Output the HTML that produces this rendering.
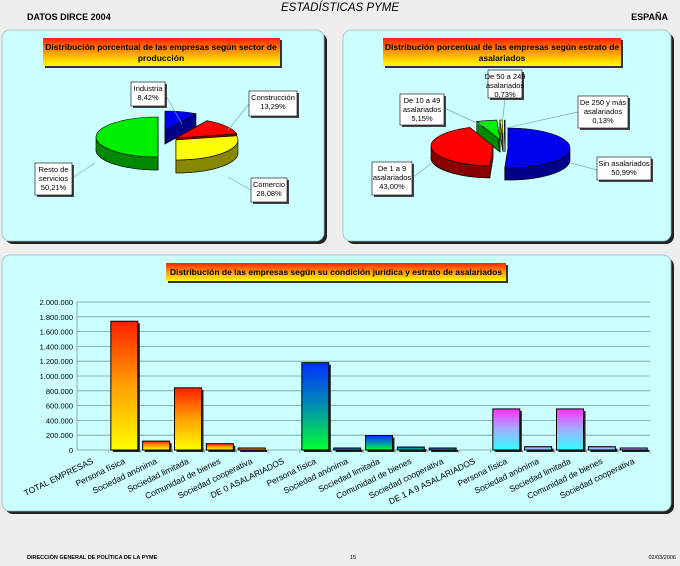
<!DOCTYPE html>
<html><head><meta charset="utf-8"><style>
html,body{margin:0;padding:0;background:#eeeeee;}
body{width:680px;height:561px;overflow:hidden;font-family:"Liberation Sans",Arial,sans-serif;}
</style></head><body>
<svg id="s" width="680" height="561" viewBox="0 0 680 561" xmlns="http://www.w3.org/2000/svg" font-family="Liberation Sans, Arial, sans-serif">
<defs>
<linearGradient id="tg" x1="0" y1="0" x2="0" y2="1"><stop offset="0" stop-color="#ff2000"/><stop offset="0.5" stop-color="#ff9a00"/><stop offset="1" stop-color="#ffff00"/></linearGradient>
<linearGradient id="g1" x1="0" y1="0" x2="0" y2="1"><stop offset="0" stop-color="#ff2000"/><stop offset="0.5" stop-color="#ffa000"/><stop offset="1" stop-color="#ffff00"/></linearGradient>
<linearGradient id="g2" x1="0" y1="0" x2="0" y2="1"><stop offset="0" stop-color="#0030ff"/><stop offset="0.5" stop-color="#0090b0"/><stop offset="1" stop-color="#00ff30"/></linearGradient>
<linearGradient id="g3" x1="0" y1="0" x2="0" y2="1"><stop offset="0" stop-color="#ff30ff"/><stop offset="0.5" stop-color="#a0b0ff"/><stop offset="1" stop-color="#30ffff"/></linearGradient>
</defs>
<text x="340" y="11" text-anchor="middle" font-size="11.5" font-style="italic">ESTADÍSTICAS PYME</text>
<text x="27" y="20" font-size="9" font-weight="bold">DATOS DIRCE 2004</text>
<text x="668" y="20" font-size="9" font-weight="bold" text-anchor="end">ESPAÑA</text>
<rect x="5" y="33" width="322" height="211" rx="8" fill="#222"/>
<rect x="2" y="30" width="322" height="211" rx="8" fill="#ccffff" stroke="#99bbbb" stroke-width="0.8"/>
<rect x="346" y="33" width="328" height="211" rx="8" fill="#222"/>
<rect x="343" y="30" width="328" height="211" rx="8" fill="#ccffff" stroke="#99bbbb" stroke-width="0.8"/>
<rect x="5" y="258" width="669" height="256" rx="8" fill="#222"/>
<rect x="2" y="255" width="669" height="256" rx="8" fill="#ccffff" stroke="#99bbbb" stroke-width="0.8"/>
<rect x="45" y="40" width="237" height="28" fill="#333"/>
<rect x="43" y="38" width="237" height="28" fill="url(#tg)"/>
<text x="161" y="50" font-size="8.5" font-weight="bold" text-anchor="middle">Distribución porcentual de las empresas según sector de</text>
<text x="161" y="61" font-size="8.5" font-weight="bold" text-anchor="middle">producción</text>
<rect x="385" y="40" width="238" height="28" fill="#333"/>
<rect x="383" y="38" width="238" height="28" fill="url(#tg)"/>
<text x="502" y="50" font-size="8.5" font-weight="bold" text-anchor="middle">Distribución porcentual de las empresas según estrato de</text>
<text x="502" y="61" font-size="8.5" font-weight="bold" text-anchor="middle">asalariados</text>
<rect x="168" y="265" width="340" height="18" fill="#333"/>
<rect x="166" y="263" width="340" height="18" fill="url(#tg)"/>
<text x="336" y="275" font-size="8.5" font-weight="bold" text-anchor="middle">Distribución de las empresas según su condición jurídica y estrato de asalariados</text>
<g id="pies"></g>
<g id="bars"></g>
<text x="27" y="559" font-size="5.5" font-weight="bold">DIRECCIÓN GENERAL DE POLÍTICA DE LA PYME</text>
<text x="350" y="559" font-size="5.5">15</text>
<text x="676" y="559" font-size="5.5" text-anchor="end">02/03/2006</text>
</svg>
<script>
var NS="http://www.w3.org/2000/svg";
function el(p,t,a,txt){var e=document.createElementNS(NS,t);for(var k in a)e.setAttribute(k,a[k]);if(txt!==undefined)e.textContent=txt;p.appendChild(e);return e;}
var pies=document.getElementById('pies');
function pt(cx,cy,rx,ry,t){var r=t*Math.PI/180;return [cx+rx*Math.sin(r),cy-ry*Math.cos(r)];}
function pie(cx,cy,rx,ry,d,sl){
  var dark=el(pies,'g',{}),top=el(pies,'g',{});
  sl.forEach(function(s){
    var x=cx+s.dx,y=cy+s.dy,a=s.a,b=s.b;
    var p1=pt(x,y,rx,ry,a),p2=pt(x,y,rx,ry,b),lg=(b-a)>180?1:0;
    var q1=pt(x,y+d,rx,ry,a),q2=pt(x,y+d,rx,ry,b);
    var st={fill:s.dk,stroke:'#000','stroke-width':0.6};
    el(dark,'path',Object.assign({d:'M'+x+','+(y+d)+'L'+q1+'A'+rx+' '+ry+' 0 '+lg+' 1 '+q2+'Z'},st));
    el(dark,'path',Object.assign({d:'M'+x+','+y+'L'+p1+'L'+q1+'L'+x+','+(y+d)+'Z'},st));
    el(dark,'path',Object.assign({d:'M'+x+','+y+'L'+p2+'L'+q2+'L'+x+','+(y+d)+'Z'},st));
    var s1=Math.max(a,90),s2=Math.min(b,270);
    if(s2>s1){var u1=pt(x,y,rx,ry,s1),u2=pt(x,y,rx,ry,s2),v1=pt(x,y+d,rx,ry,s1),v2=pt(x,y+d,rx,ry,s2);
      el(dark,'path',Object.assign({d:'M'+u1+'A'+rx+' '+ry+' 0 0 1 '+u2+'L'+v2+'A'+rx+' '+ry+' 0 0 0 '+v1+'Z'},st));}
    el(top,'path',{d:'M'+x+','+y+'L'+p1+'A'+rx+' '+ry+' 0 '+lg+' 1 '+p2+'Z',fill:s.c,stroke:'#000','stroke-width':0.6});
  });
}
pie(168,140,62,20,13,[
 {a:180,b:360,c:'#00ee00',dk:'#008800',dx:-10,dy:-3},
 {a:0,b:30,c:'#0000ee',dk:'#000088',dx:-3,dy:-9},
 {a:30,b:78,c:'#ff0000',dk:'#880000',dx:8,dy:-2},
 {a:78,b:180,c:'#ffff00',dk:'#888800',dx:8,dy:0}]);
pie(505,148,62,20,12,[
 {a:0,b:183,c:'#0000ee',dk:'#000088',dx:3,dy:0},
 {a:183,b:338,c:'#ff0000',dk:'#880000',dx:-12,dy:-2},
 {a:338,b:357,c:'#00ee00',dk:'#008800',dx:-5,dy:-8},
 {a:357,b:359.5,c:'#ffff00',dk:'#888800',dx:-2,dy:-8},
 {a:359.5,b:360,c:'#ff00ff',dk:'#880088',dx:0,dy:-8}]);
function lab(x,y,w,h,lines,lx1,ly1,lx2,ly2){
  el(pies,'line',{x1:lx1,y1:ly1,x2:lx2,y2:ly2,stroke:'#7aa','stroke-width':0.7});
  el(pies,'rect',{x:x+2,y:y+2,width:w,height:h,fill:'#444'});
  el(pies,'rect',{x:x,y:y,width:w,height:h,fill:'#fff',stroke:'#000','stroke-width':0.6});
  lines.forEach(function(t,i){el(pies,'text',{x:x+w/2,y:y+9+i*9,'font-size':7.5,'text-anchor':'middle'},t);});
}
lab(131,82,34,24,['Industria','8,42%'],165,94,182,124);
lab(249,91,48,25,['Construcción','13,29%'],249,104,228,130);
lab(251,178,36,24,['Comercio','28,08%'],251,190,228,177);
lab(35,163,37,32,['Resto de','servicios','50,21%'],72,178,95,163);
lab(488,70,34,28,['De 50 a 249','asalariados','0,73%'],505,98,502,126);
lab(400,94,44,31,['De 10 a 49','asalariados','5,15%'],444,108,488,128);
lab(578,96,50,32,['De 250 y más','asalariados','0,13%'],578,112,506,128);
lab(597,157,54,23,['Sin asalariados','50,99%'],597,170,571,163);
lab(372,162,40,33,['De 1 a 9','asalariados','43,00%'],412,178,432,163);
var bars=document.getElementById('bars');
var x0=77,x1=650,yb=450,yt=302,n=18,sp=(x1-x0)/n;
var ticks=['0','200.000','400.000','600.000','800.000','1.000.000','1.200.000','1.400.000','1.600.000','1.800.000','2.000.000'];
for(var i=0;i<=10;i++){var y=yb-i*(yb-yt)/10;
  el(bars,'line',{x1:x0,y1:y,x2:x1,y2:y,stroke:'#7a9a9a','stroke-width':0.8});
  el(bars,'text',{x:73,y:y+3,'font-size':7.5,'text-anchor':'end'},ticks[i]);}
el(bars,'line',{x1:x0,y1:yt,x2:x0,y2:yb,stroke:'#7a9a9a','stroke-width':0.8});
var cats=['TOTAL EMPRESAS','Persona física','Sociedad anónima','Sociedad limitada','Comunidad de bienes','Sociedad cooperativa','DE 0 ASALARIADOS','Persona física','Sociedad anónima','Sociedad limitada','Comunidad de bienes','Sociedad cooperativa','DE 1 A 9 ASALARIADOS','Persona física','Sociedad anónima','Sociedad limitada','Comunidad de bienes','Sociedad cooperativa'];
var vals=[0,1740,120,840,85,25,0,1180,25,195,40,8,0,555,45,555,45,15];
for(var i=0;i<n;i++){
  var cx=x0+i*sp;
  el(bars,'line',{x1:cx+sp,y1:yb,x2:cx+sp,y2:yb+3,stroke:'#7a9a9a','stroke-width':0.8});
  var v=vals[i];
  if(v>0){var h=Math.max(v*0.074,2),g=i<6?'g1':(i<12?'g2':'g3');
    el(bars,'rect',{x:cx+4,y:yb-h+2,width:27,height:h,fill:'#222'});
    el(bars,'rect',{x:cx+2,y:yb-h,width:27,height:h,fill:'url(#'+g+')',stroke:'#000','stroke-width':1});}
  var tx=cx+sp/2+1,ty=yb+13;
  el(bars,'text',{x:tx,y:ty,'font-size':8.5,'text-anchor':'end',transform:'rotate(-26 '+tx+' '+ty+')'},cats[i]);
}
</script>
</body></html>
